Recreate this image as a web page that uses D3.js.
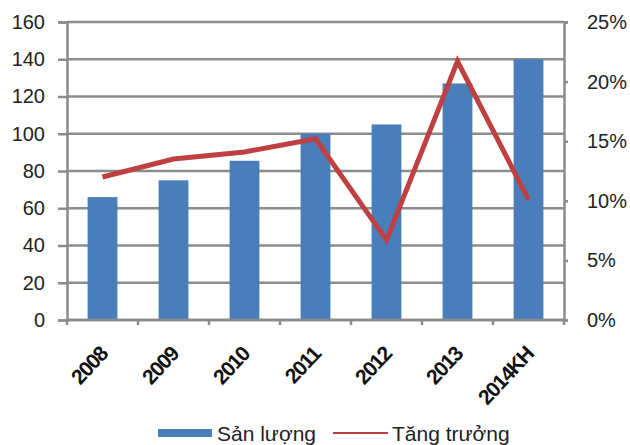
<!DOCTYPE html>
<html>
<head>
<meta charset="utf-8">
<script src="https://cdn.jsdelivr.net/npm/d3@7"></script>
<style>
  html, body { margin: 0; padding: 0; background: #fff; }
  svg { display: block; font-family: "Liberation Sans", Arial, sans-serif; }
</style>
</head>
<body>
<svg id="chart" width="630" height="445"></svg>
<script>
// Output (left axis) and growth rate (right axis) by year
const years = ["2008", "2009", "2010", "2011", "2012", "2013", "2014KH"];
const output = [66, 75, 85.5, 100, 105, 127, 140];
const growth = [0.12, 0.135, 0.141, 0.152, 0.067, 0.217, 0.101];
const leftTicks = [0, 20, 40, 60, 80, 100, 120, 140, 160];
const rightTicks = [0, 0.05, 0.10, 0.15, 0.20, 0.25];
const seriesNames = ["Sản lượng", "Tăng trưởng"];

const barColor = "#4a7ebb";
const lineColor = "#be4040";
const gridColor = "#8c8c8c";

const svg = d3.select("#chart");
const plot = { left: 67, right: 564, top: 22, bottom: 320 };

const x = d3.scaleBand().domain(years).range([plot.left, plot.right]).paddingInner(0.58).paddingOuter(0.29);
const band = d3.scaleBand().domain(years).range([plot.left, plot.right]);
const yL = d3.scaleLinear().domain([0, 160]).range([plot.bottom, plot.top]);
const yR = d3.scaleLinear().domain([0, 0.25]).range([plot.bottom, plot.top]);

// horizontal gridlines
svg.append("g").selectAll("line").data(leftTicks).join("line")
  .attr("x1", plot.left).attr("x2", plot.right)
  .attr("y1", d => yL(d)).attr("y2", d => yL(d))
  .attr("stroke", gridColor).attr("stroke-width", 2.5);

// bars
svg.append("g").selectAll("rect").data(output).join("rect")
  .attr("x", (d, i) => x(years[i]))
  .attr("width", x.bandwidth())
  .attr("y", d => yL(d))
  .attr("height", d => yL(0) - yL(d))
  .attr("fill", barColor);

// left axis
const gl = svg.append("g").attr("transform", `translate(${plot.left},0)`)
  .call(d3.axisLeft(yL).tickValues(leftTicks).tickSize(9).tickPadding(13));
gl.select(".domain").attr("stroke", gridColor).attr("stroke-width", 2.5);
gl.selectAll(".tick line").attr("stroke", gridColor).attr("stroke-width", 2.5);
gl.selectAll(".tick text").attr("font-size", 20).attr("fill", "#222")
  .style("font-family", "'Liberation Sans', Arial, sans-serif");

// right axis
const gr = svg.append("g").attr("transform", `translate(${plot.right},0)`)
  .call(d3.axisRight(yR).tickValues(rightTicks).tickSize(4).tickPadding(19)
    .tickFormat(d => Math.round(d * 100) + "%"));
gr.select(".domain").attr("stroke", gridColor).attr("stroke-width", 2.5);
gr.selectAll(".tick line").attr("stroke", gridColor).attr("stroke-width", 2.5);
gr.selectAll(".tick text").attr("font-size", 20).attr("fill", "#222")
  .style("font-family", "'Liberation Sans', Arial, sans-serif");

// bottom axis: ticks on band boundaries, rotated bold labels
const boundaries = years.map(d => band(d)).concat([plot.right]);
svg.append("line")
  .attr("x1", plot.left).attr("x2", plot.right)
  .attr("y1", plot.bottom).attr("y2", plot.bottom)
  .attr("stroke", gridColor).attr("stroke-width", 2.5);
svg.append("g").selectAll("line").data(boundaries).join("line")
  .attr("x1", d => d).attr("x2", d => d)
  .attr("y1", plot.bottom).attr("y2", plot.bottom + 5)
  .attr("stroke", gridColor).attr("stroke-width", 2.5);
svg.append("g").selectAll("text").data(years).join("text")
  .attr("transform", d => `translate(${band(d) + band.bandwidth() / 2 + 1},${plot.bottom + 30}) rotate(-47)`)
  .attr("text-anchor", "end")
  .attr("dy", "0.35em")
  .attr("font-size", 21).attr("font-weight", "bold").attr("fill", "#111")
  .attr("letter-spacing", -1.2)
  .text(d => d);

// growth line
const line = d3.line()
  .x((d, i) => band(years[i]) + band.bandwidth() / 2)
  .y(d => yR(d));
svg.append("path").datum(growth)
  .attr("d", line)
  .attr("fill", "none")
  .attr("stroke", lineColor)
  .attr("stroke-width", 5)
  .attr("stroke-linejoin", "miter");

// legend
const lg = svg.append("g").attr("font-size", 21).attr("fill", "#222");
lg.append("rect").attr("x", 158).attr("y", 429).attr("width", 54).attr("height", 8).attr("fill", barColor);
lg.append("text").attr("x", 217).attr("y", 441).text(seriesNames[0]);
lg.append("line").attr("x1", 333).attr("x2", 388).attr("y1", 433).attr("y2", 433)
  .attr("stroke", lineColor).attr("stroke-width", 2);
lg.append("text").attr("x", 392).attr("y", 441).text(seriesNames[1]);
</script>
</body>
</html>
